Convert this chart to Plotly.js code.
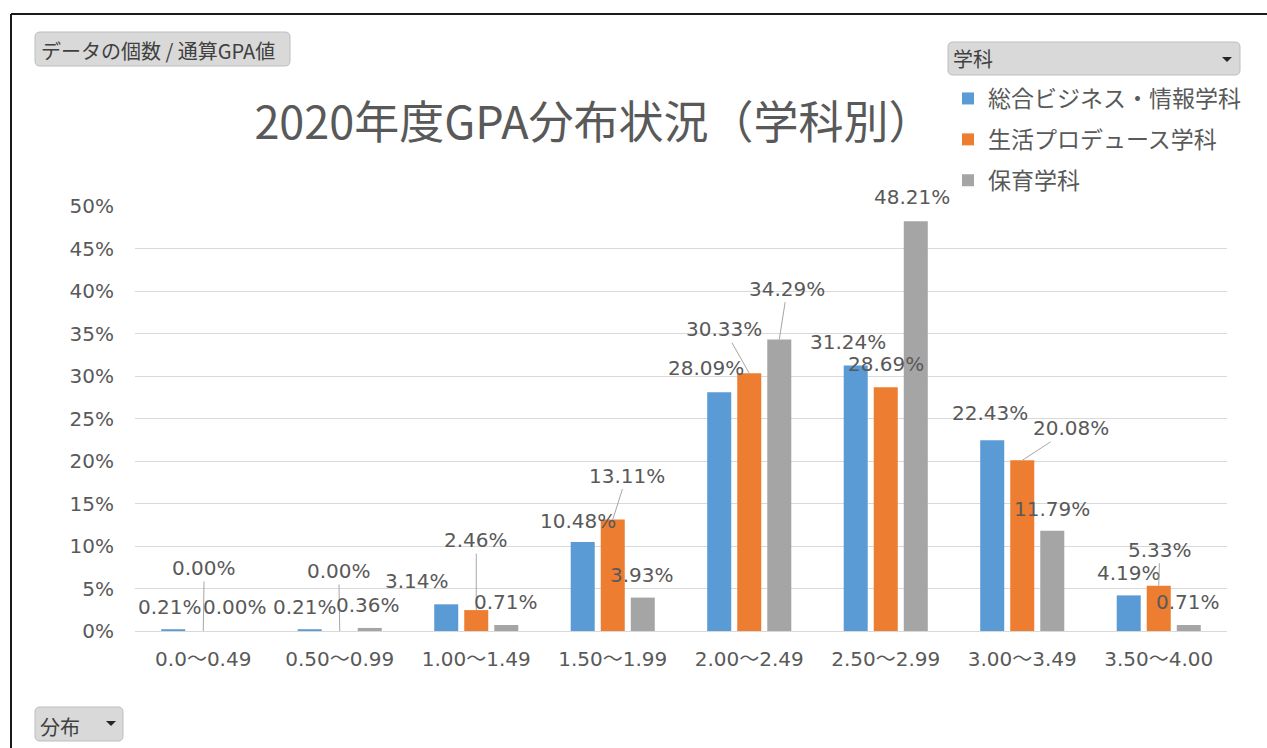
<!DOCTYPE html>
<html>
<head>
<meta charset="utf-8">
<script src="https://cdn.plot.ly/plotly-3.0.1.min.js"></script>
<style>
html,body{margin:0;padding:0;background:#fff;}
#chart{width:1267px;height:748px;}
</style>
</head>
<body>
<div id="chart"></div>
<script>
// ---- data ----
const categories = ['0.0～0.49','0.50～0.99','1.00～1.49','1.50～1.99','2.00～2.49','2.50～2.99','3.00～3.49','3.50～4.00'];
const seriesNames = ['総合ビジネス・情報学科','生活プロデュース学科','保育学科'];
const businessValues = [0.21, 0.21, 3.14, 10.48, 28.09, 31.24, 22.43, 4.19];
const lifeProduceValues = [0.00, 0.00, 2.46, 13.11, 30.33, 28.69, 20.08, 5.33];
const childcareValues = [0.00, 0.36, 0.71, 3.93, 34.29, 48.21, 11.79, 0.71];
const yTickValues = [0,5,10,15,20,25,30,35,40,45,50];
const yTickLabels = ['0%','5%','10%','15%','20%','25%','30%','35%','40%','45%','50%'];

// ---- layout helpers ----
const W = 1267, H = 748;
const L = 135, R = 1227, T = 206, B = 631;
const px = x => (x - L) / (R - L);
const py = y => (B - y) / (B - T);
const colors = ['#5b9bd5', '#ed7d31', '#a5a5a5'];
const textColor = '#595959';
const numFont = 'DejaVu Sans, Noto Sans CJK JP, sans-serif';
const jpFont = 'Noto Sans CJK JP, sans-serif';

const allSeries = [businessValues, lifeProduceValues, childcareValues];
const traces = allSeries.map((vals, i) => ({
  type: 'bar',
  name: seriesNames[i],
  x: categories,
  y: vals,
  marker: {color: colors[i]},
  legendgroup: 'g' + i,
  hoverinfo: 'skip'
}));

// label placement (pixels relative to bar top): [dx, dy, leader]
const labelOffsets = [
  [[-3,-22,0],[1,-63,1],[2,-24,0]],
  [[-5,-22,0],[-1,-60,1],[-2,-23,0]],
  [[-29,-23,0],[0,-70,1],[0,-23,0]],
  [[-5,-21,0],[14,-44,1],[-1,-23,0]],
  [[-13,-24,0],[-25,-44,1],[8,-51,1]],
  [[-8,-23,0],[0,-23,0],[-4,-24,0]],
  [[-2,-27,0],[49,-32,1],[0,-22,0]],
  [[0,-22,0],[1,-36,1],[-1,-23,0]]
];
const barOffset = [-0.22, 0, 0.22];

const annotations = [];
categories.forEach((c, g) => {
  allSeries.forEach((vals, s) => {
    const [dx, dy, leader] = labelOffsets[g][s];
    const base = {
      x: g + barOffset[s], y: vals[g], xref: 'x', yref: 'y',
      text: vals[g].toFixed(2) + '%',
      font: {family: numFont, size: 20, color: textColor}
    };
    if (leader) {
      Object.assign(base, {showarrow: true, arrowhead: 0, arrowwidth: 1, arrowcolor: '#a6a6a6',
        ax: dx, ay: dy, standoff: 0, startstandoff: 0});
    } else {
      Object.assign(base, {showarrow: false, xshift: dx, yshift: -dy});
    }
    annotations.push(base);
  });
});

// button texts
annotations.push({xref:'paper', yref:'paper', x:px(39), y:py(50), xanchor:'left', yanchor:'middle',
  text:'データの個数 / 通算GPA値', showarrow:false, font:{family:jpFont, size:20, color:'#404040'}});
annotations.push({xref:'paper', yref:'paper', x:px(951), y:py(59), xanchor:'left', yanchor:'middle',
  text:'学科', showarrow:false, font:{family:jpFont, size:20, color:'#404040'}});
annotations.push({xref:'paper', yref:'paper', x:px(38), y:py(726), xanchor:'left', yanchor:'middle',
  text:'分布', showarrow:false, font:{family:jpFont, size:20, color:'#404040'}});

function roundRect(x0, y0, x1, y1, r) {
  return `M${px(x0+r)},${py(y0)} L${px(x1-r)},${py(y0)} Q${px(x1)},${py(y0)} ${px(x1)},${py(y0+r)} ` +
    `L${px(x1)},${py(y1-r)} Q${px(x1)},${py(y1)} ${px(x1-r)},${py(y1)} L${px(x0+r)},${py(y1)} ` +
    `Q${px(x0)},${py(y1)} ${px(x0)},${py(y1-r)} L${px(x0)},${py(y0+r)} Q${px(x0)},${py(y0)} ${px(x0+r)},${py(y0)} Z`;
}
function tri(x0, y0, w, h) {
  return `M${px(x0)},${py(y0)} L${px(x0+w)},${py(y0)} L${px(x0+w/2)},${py(y0+h)} Z`;
}
const btnFill = '#d9d9d9', btnLine = '#bdbdbd';
const shapes = [
  // frame
  {type:'line', xref:'paper', yref:'paper', x0:px(11), x1:px(1267), y0:py(14), y1:py(14), line:{color:'#1a1a1a', width:2}},
  {type:'line', xref:'paper', yref:'paper', x0:px(11), x1:px(11), y0:py(14), y1:py(748), line:{color:'#1a1a1a', width:2}},
  // buttons
  {type:'path', xref:'paper', yref:'paper', path:roundRect(35,32,290,66,5), fillcolor:btnFill, line:{color:btnLine, width:1}},
  {type:'path', xref:'paper', yref:'paper', path:roundRect(948,42,1240,75,5), fillcolor:btnFill, line:{color:btnLine, width:1}},
  {type:'path', xref:'paper', yref:'paper', path:roundRect(35,707,123,741,5), fillcolor:btnFill, line:{color:btnLine, width:1}},
  {type:'path', xref:'paper', yref:'paper', path:tri(1222,57,10,5), fillcolor:'#262626', line:{width:0}},
  {type:'path', xref:'paper', yref:'paper', path:tri(106,721,10,5), fillcolor:'#262626', line:{width:0}}
];

const layout = {
  width: W, height: H,
  margin: {l: L, r: W - R, t: T, b: H - B, pad: 0},
  paper_bgcolor: '#ffffff', plot_bgcolor: '#ffffff',
  title: {
    text: '2020年度GPA分布状況（学科別）',
    font: {family: jpFont, size: 45, color: textColor},
    xref: 'container', yref: 'container',
    x: 594 / W, y: 1 - 123 / H, xanchor: 'center', yanchor: 'middle'
  },
  barmode: 'group',
  bargap: 0.34,
  bargroupgap: 0.2,
  xaxis: {
    type: 'category',
    tickfont: {family: numFont, size: 20, color: textColor},
    showgrid: false, showline: false, ticks: '', zeroline: false,
    ticklabelstandoff: 14,
    fixedrange: true
  },
  yaxis: {
    range: [0, 50],
    tickvals: yTickValues, ticktext: yTickLabels,
    tickfont: {family: numFont, size: 20, color: textColor},
    showgrid: true, gridcolor: '#d9d9d9', gridwidth: 1,
    zeroline: true, zerolinecolor: '#d9d9d9', zerolinewidth: 1,
    showline: false, ticks: '',
    ticklabelstandoff: 20,
    fixedrange: true
  },
  showlegend: true,
  legend: {
    x: px(948), y: py(77), xanchor: 'left', yanchor: 'top',
    xref: 'paper', yref: 'paper',
    font: {family: jpFont, size: 23, color: textColor},
    bgcolor: 'rgba(0,0,0,0)', borderwidth: 0,
    traceorder: 'grouped', tracegroupgap: 8,
    itemclick: false, itemdoubleclick: false
  },
  annotations: annotations,
  shapes: shapes
};

Plotly.newPlot('chart', traces, layout, {displayModeBar: false, staticPlot: true});
</script>
</body>
</html>
